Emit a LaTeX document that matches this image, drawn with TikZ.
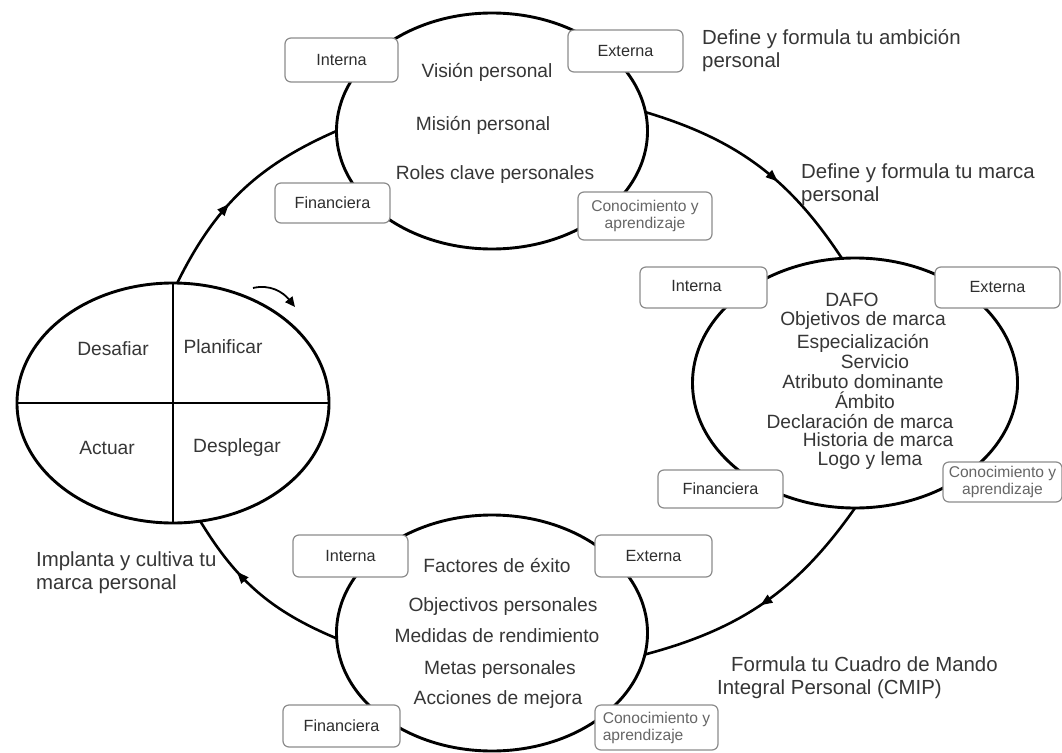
\documentclass[tikz,border=0pt]{standalone}
\usepackage{fontspec}
\setmainfont{Liberation Sans}
\usetikzlibrary{shapes.geometric,decorations.markings,arrows.meta}
\definecolor{txtc}{HTML}{363636}
\definecolor{boxc}{HTML}{8C8C8C}
\definecolor{lightc}{HTML}{666666}
\begin{document}
\begin{tikzpicture}[x=1pt,y=-1pt,
  ell/.style={draw=black,line width=2.9pt,ellipse,inner sep=0pt,outer sep=0pt},
  cyc/.style={draw=black,line width=2.6pt,postaction={decorate},
    decoration={markings,mark=at position #1 with {\arrow{Triangle[length=12pt,width=9pt]}}}},
  lbox/.style={draw=boxc,line width=1.2pt,rounded corners=6pt,fill=white,inner sep=0pt,
    text=black!82,font=\fontsize{16.2}{17}\selectfont},
  kbox/.style={lbox,text=lightc,font=\fontsize{15.6}{17}\selectfont,align=center},
  etxt/.style={text=txtc,font=\fontsize{19.2}{20}\selectfont,inner sep=0pt},
  side/.style={text=txtc,font=\fontsize{20.4}{23}\selectfont,align=left,inner sep=0pt,anchor=west}]
\clip (0,0) rectangle (1062,752);
\fill[white] (0,0) rectangle (1062,752);
% ellipses
\node[ell,minimum width=311pt,minimum height=236pt] (T) at (492,131) {};
\node[ell,minimum width=325pt,minimum height=250pt] (R) at (855,383) {};
\node[ell,minimum width=311pt,minimum height=236pt] (B) at (492,633) {};
\node[ell,minimum width=312pt,minimum height=240pt] (L) at (173,403) {};
\draw[line width=2pt] (L.north) -- (L.south);
\draw[line width=2pt] (L.west) -- (L.east);
% cycle connectors
\draw[cyc=0.42] (L.88) to[bend left=20] (T.west);
\draw[cyc=0.6] (T.7) to[bend left=20] (R.96);
\draw[cyc=0.52] (R.south) to[bend left=20] (B.-8);
\draw[cyc=0.66] (B.182) to[bend left=18] (L.-77);
% small turning arrow
\coordinate (s1) at (253,288);
\coordinate (s2) at (295,307);
\draw[line width=1.8pt,-{Triangle[length=10pt,width=9pt]}] (s1) .. controls (270,284) and (283,292) .. (s2);
% boxes top
\node[lbox,minimum width=113pt,minimum height=44pt] (ti) at (341.5,60) {Interna};
\node[lbox,minimum width=115pt,minimum height=42pt] (te) at (625.5,51) {Externa};
\node[lbox,minimum width=115pt,minimum height=40pt] (tf) at (332.5,203) {Financiera};
\node[kbox,minimum width=134pt,minimum height=48pt] (tk) at (645,216) {Conocimiento y\\aprendizaje};
% boxes right
\node[lbox,minimum width=127pt,minimum height=41pt] (ri) at (703.5,287.5) {\raisebox{4pt}{Interna}\hspace*{14pt}};
\node[lbox,minimum width=125pt,minimum height=41pt] (re) at (997.5,287.5) {Externa};
\node[lbox,minimum width=125pt,minimum height=38pt] (rf) at (720.5,489) {Financiera};
\node[kbox,minimum width=119pt,minimum height=40pt] (rk) at (1002.5,482) {Conocimiento y\\aprendizaje};
% boxes bottom
\node[lbox,minimum width=115pt,minimum height=42pt] (bi) at (350.5,556) {Interna};
\node[lbox,minimum width=117pt,minimum height=42pt] (be) at (653.5,556) {Externa};
\node[lbox,minimum width=117pt,minimum height=42pt] (bf) at (341.5,726) {Financiera};
\node[kbox,align=left,minimum width=123pt,minimum height=45pt] (bk) at (656.5,727.5) {Conocimiento y\\aprendizaje};
% top texts
\node[etxt] (t1) at (487,72) {Visión personal};
\node[etxt] (t2) at (483,125) {Misión personal};
\node[etxt] (t3) at (495,175) {Roles clave personales};
% right texts
\node[etxt] (r1) at (852,300) {DAFO};
\node[etxt] (r2) at (863,321) {Objetivos de marca};
\node[etxt] (r3) at (863,343) {Especialización};
\node[etxt] (r4) at (875,362) {Servicio};
\node[etxt] (r5) at (863,382) {Atributo dominante};
\node[etxt] (r6) at (865,400) {Ámbito};
\node[etxt] (r7) at (860,422) {Declaración de marca};
\node[etxt] (r8) at (878,440) {Historia de marca};
\node[etxt] (r9) at (870,461) {Logo y lema};
% bottom texts
\node[etxt] (b1) at (497,566) {Factores de éxito};
\node[etxt] (b2) at (503,607) {Objectivos personales};
\node[etxt] (b3) at (497,636) {Medidas de rendimiento};
\node[etxt] (b4) at (500,670) {Metas personales};
\node[etxt] (b5) at (498,700) {Acciones de mejora};
% left quadrants
\node[etxt] (q1) at (113,349) {Desafiar};
\node[etxt] (q2) at (223,347) {Planificar};
\node[etxt] (q3) at (107,448) {Actuar};
\node[etxt] (q4) at (237,448) {Desplegar};
% side labels
\node[side] (s_a) at (702,51) {Define y formula tu ambición\\personal};
\node[side] (s_b) at (801,185) {Define y formula tu marca\\personal};
\node[side] (s_c) at (717,678) {\hspace*{14pt}Formula tu Cuadro de Mando\\Integral Personal (CMIP)};
\node[side] (s_d) at (36,573) {Implanta y cultiva tu\\marca personal};
\end{tikzpicture}
\end{document}
